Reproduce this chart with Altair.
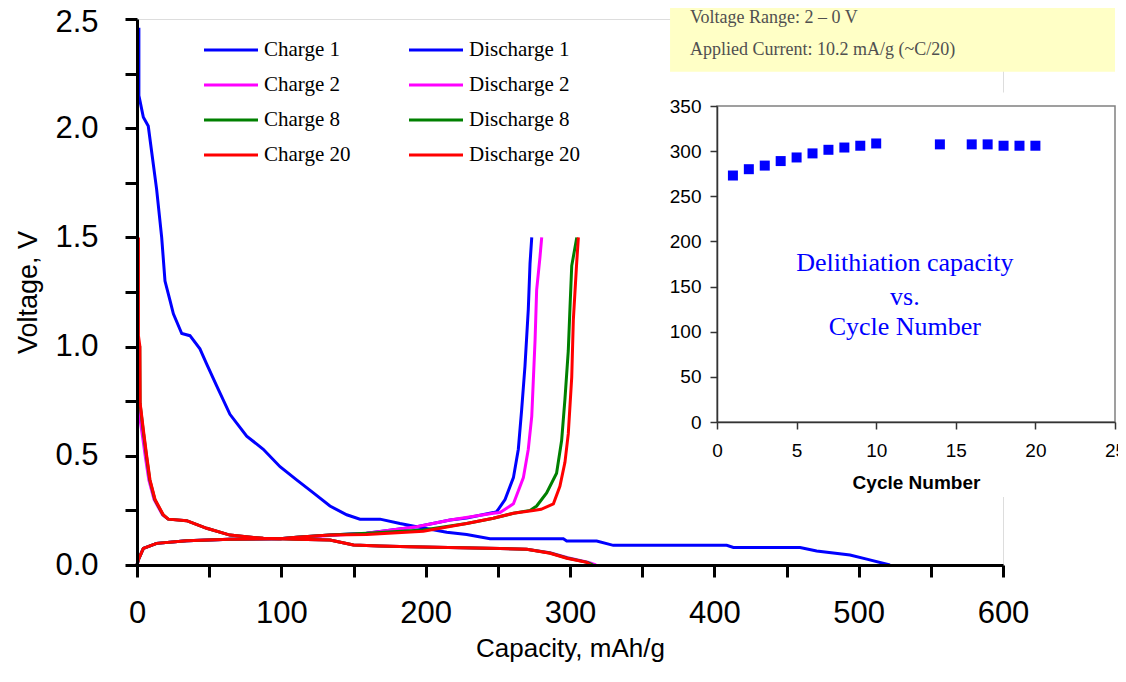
import altair as alt
import pandas as pd

# ---------------- main chart data (capacity mAh/g, voltage V) ----------------
d1_cap = [1.3, 1.3, 1.6, 4.4, 7.8, 10.2, 13.6, 17.1, 19.4, 22.9, 25.2, 31, 36.7, 43.6, 48.3, 55.2,
          64.4, 76, 87.5, 99.1, 110.6, 122.2, 133.7, 145.3, 154.5, 168.4, 182.2, 193.8, 214.6,
          228.4, 244.6, 295.4, 297.7, 318.5, 330, 408.6, 413.2, 459.4, 470.9, 494, 505.6, 521.7]
d1_v = [2.46, 2.15, 2.14, 2.05, 2.01, 1.89, 1.72, 1.50, 1.30, 1.21, 1.15, 1.06, 1.05, 0.99, 0.92, 0.82,
        0.69, 0.59, 0.53, 0.45, 0.39, 0.33, 0.27, 0.23, 0.21, 0.21, 0.19, 0.175, 0.15,
        0.14, 0.12, 0.12, 0.11, 0.11, 0.09, 0.09, 0.08, 0.08, 0.064, 0.046, 0.027, 0.0]

c1_cap = [0, 0.9, 4.4, 13.6, 34.4, 64.4, 99, 110.6, 133.7, 159, 193.8, 216.9, 228.4, 246.9,
          249.2, 255, 260.8, 264.2, 266.5, 268.8, 271.1, 272.3, 273.5]
c1_v = [0, 0.023, 0.076, 0.099, 0.111, 0.118, 0.12, 0.127, 0.137, 0.145, 0.175, 0.206, 0.215, 0.24,
        0.244, 0.30, 0.40, 0.53, 0.71, 0.91, 1.17, 1.38, 1.50]

d2_cap = [1.0, 1.0, 1.6, 1.8, 3.6, 5.9, 8.2, 11.8, 17.6, 21.5, 34.4, 48.3, 64.4, 87.5, 110.6, 133.7,
          150, 168, 189, 251.5, 270, 286.2, 298.5, 313, 318]
d2_v = [0.72, 0.70, 0.69, 0.68, 0.60, 0.49, 0.39, 0.30, 0.23, 0.21, 0.203, 0.168, 0.137, 0.122, 0.118,
        0.114, 0.092, 0.087, 0.084, 0.076, 0.072, 0.056, 0.033, 0.012, 0.0]

c2_cap = [0, 0.9, 4.4, 13.6, 34.4, 64.4, 99, 110.6, 133.7, 159, 193.8, 216.9, 246.9, 251.5,
          260.8, 267.7, 271.1, 273.5, 275.8, 276.9, 279.2, 280.4]
c2_v = [0, 0.023, 0.076, 0.099, 0.111, 0.118, 0.12, 0.125, 0.135, 0.145, 0.175, 0.206, 0.237, 0.24,
        0.28, 0.40, 0.53, 0.68, 1.03, 1.26, 1.41, 1.50]

d8_cap = [1.0, 1.0, 1.9, 2.1, 4.2, 6.5, 8.8, 12.3, 18, 21.6, 34.4, 48.3, 64.4, 87.5, 110.6, 133.7,
          150, 168, 189, 251.5, 270, 286.2, 298, 312, 316]
d8_v = [1.02, 1.01, 1.0, 0.74, 0.62, 0.50, 0.39, 0.30, 0.23, 0.21, 0.203, 0.168, 0.137, 0.122, 0.118,
        0.114, 0.092, 0.087, 0.084, 0.076, 0.072, 0.055, 0.032, 0.012, 0.0]

c8_cap = [0, 0.9, 4.4, 13.6, 34.4, 64.4, 99, 110.6, 133.7, 159.2, 198.4, 228.4, 246.9, 260.8,
          272.3, 276.9, 283.8, 290.7, 294.2, 296.5, 298.8, 300, 301.2, 304.7]
c8_v = [0, 0.023, 0.076, 0.099, 0.111, 0.118, 0.12, 0.127, 0.137, 0.145, 0.16, 0.19, 0.214, 0.237,
        0.25, 0.27, 0.33, 0.42, 0.57, 0.76, 0.98, 1.18, 1.37, 1.50]

d20_cap = [1.0, 1.0, 2, 2.2, 4.4, 6.7, 9, 12.5, 18.2, 21.7, 34.4, 48.3, 64.4, 87.5, 110.6, 133.7,
           150, 168, 189, 251.5, 270, 286.2, 297.7, 311.5, 314]
d20_v = [1.50, 1.05, 1.0, 0.74, 0.62, 0.50, 0.39, 0.30, 0.23, 0.21, 0.203, 0.168, 0.137, 0.122, 0.118,
         0.114, 0.092, 0.087, 0.084, 0.076, 0.072, 0.054, 0.031, 0.012, 0.0]

c20_cap = [0, 0.9, 4.4, 13.6, 34.4, 64.4, 99, 110.6, 133.7, 159.2, 198.4, 228.4, 246.9, 260.8,
           274.6, 280, 288.5, 293, 296.5, 298.8, 301.2, 302.3, 304.5, 305.8]
c20_v = [0, 0.023, 0.076, 0.099, 0.111, 0.118, 0.12, 0.127, 0.137, 0.14, 0.155, 0.19, 0.214, 0.237,
         0.25, 0.255, 0.28, 0.36, 0.47, 0.60, 0.86, 1.12, 1.37, 1.50]

# legend order (filled column by column: charges left, discharges right)
series_names = ["Charge 1", "Charge 2", "Charge 8", "Charge 20",
                "Discharge 1", "Discharge 2", "Discharge 8", "Discharge 20"]
series_colors = ["#0000FF", "#FF00FF", "#008000", "#FF0000",
                 "#0000FF", "#FF00FF", "#008000", "#FF0000"]
series_data = {
    "Charge 1": (c1_cap, c1_v), "Discharge 1": (d1_cap, d1_v),
    "Charge 2": (c2_cap, c2_v), "Discharge 2": (d2_cap, d2_v),
    "Charge 8": (c8_cap, c8_v), "Discharge 8": (d8_cap, d8_v),
    "Charge 20": (c20_cap, c20_v), "Discharge 20": (d20_cap, d20_v),
}

# ---------------- inset data ----------------
cycles = [1, 2, 3, 4, 5, 6, 7, 8, 9, 10, 14, 16, 17, 18, 19, 20]
delith_cap = [273, 280, 284, 289, 293, 297.5, 301.5, 304, 306, 308.5, 307.5, 307.5, 307.5, 306, 306, 306]

# ---------------- build main layers ----------------
FONT = "Liberation Sans"
SERIF = "Liberation Serif"

x_main = alt.Scale(domain=[0, 600], nice=False)
y_main = alt.Scale(domain=[0, 2.5], nice=False)
x_axis = alt.Axis(values=list(range(0, 601, 50)), format="d",
                  labelExpr="datum.value % 100 == 0 ? datum.label : ''",
                  title="Capacity, mAh/g", grid=False, domainColor="black", domainWidth=3,
                  tickColor="black", tickWidth=3, tickSize=12, labelFont=FONT, labelFontSize=31,
                  labelColor="black", labelPadding=21, labelFlush=False, titleFont=FONT,
                  titleFontSize=26, titleFontWeight="normal", titleColor="black", titlePadding=7,
                  zindex=1)
y_axis = alt.Axis(values=[i * 0.25 for i in range(11)],
                  labelExpr="datum.value % 0.5 == 0 ? format(datum.value, '.1f') : ''",
                  labelOffset={"condition": {"test": "datum.value == 2.5", "value": 3}, "value": 0},
                  title="Voltage, V", grid=False, domainColor="black", domainWidth=3,
                  tickColor="black", tickWidth=3, tickSize=12, labelFont=FONT, labelFontSize=31,
                  labelColor="black", labelPadding=27, labelFlush=False, titleFont=FONT,
                  titleFontSize=27, titleFontWeight="normal", titleColor="black", titlePadding=12,
                  zindex=1)
color_scale = alt.Scale(domain=series_names, range=series_colors)
legend = alt.Legend(orient="none", legendX=79, legendY=16, columns=2, title=None,
                    symbolType="M-2,0L2,0", symbolSize=729, symbolStrokeWidth=3,
                    labelFont=SERIF, labelFontSize=21, labelColor="black", labelOffset=18,
                    columnPadding=52, rowPadding=10, padding=0)

draw_order = ["Discharge 1", "Charge 1", "Discharge 2", "Charge 2",
              "Discharge 8", "Charge 8", "Discharge 20", "Charge 20"]
main_layers = []
for name in draw_order:
    caps, volts = series_data[name]
    df = pd.DataFrame({"cap": caps, "volt": volts, "series": name, "idx": list(range(len(caps)))})
    main_layers.append(
        alt.Chart(df).mark_line(strokeWidth=3).encode(
            x=alt.X("cap:Q", scale=x_main, axis=x_axis),
            y=alt.Y("volt:Q", scale=y_main, axis=y_axis),
            color=alt.Color("series:N", scale=color_scale, legend=legend),
            order=alt.Order("idx:Q"),
        )
    )
main = alt.layer(*main_layers)

# ---------------- inset ----------------
ix = alt.Scale(domain=[0, 25], range=[580, 978], nice=False, zero=False)
iy = alt.Scale(domain=[0, 350], range=[403, 87], nice=False, zero=False)
ix_axis = alt.Axis(orient="bottom", offset=-143, values=[0, 5, 10, 15, 20, 25], title="Cycle Number",
                   grid=False, domainColor="#333333", domainWidth=1.5, tickColor="#333333",
                   tickWidth=1.5, tickSize=7, labelFont=FONT, labelFontSize=19, labelColor="black",
                   labelPadding=12, labelFlush=False, titleFont=FONT, titleFontSize=19,
                   titleFontWeight="bold", titleColor="black", titlePadding=13, zindex=1)
iy_axis = alt.Axis(orient="left", offset=-580, values=list(range(0, 351, 50)), title=None,
                   grid=False, domainColor="#333333", domainWidth=1.5, tickColor="#333333",
                   tickWidth=1.5, tickSize=7, labelFont=FONT, labelFontSize=19, labelColor="black",
                   labelPadding=9, labelFlush=False, zindex=1)

# decorative boxes, expressed in inset data units
inset_bg = pd.DataFrame({"cycle": [-4.5], "cycle2": [27], "cap": [-83], "cap2": [365]})
inset_frame = pd.DataFrame({"cycle": [0], "cycle2": [25], "cap": [0], "cap2": [350]})
note_box = pd.DataFrame({"cycle": [-2.95], "cycle2": [25], "cap": [388], "cap2": [480]})
note_lines = ["Voltage Range: 2 \u2013 0 V", "Applied Current: 10.2 mA/g (~C/20)"]
note_df = pd.DataFrame({"cycle": [-1.7, -1.7], "cap": [447, 412], "label": note_lines})
inset_text = ["Delithiation capacity", "vs.", "Cycle Number"]
inset_text_df = pd.DataFrame({"cycle": [11.8, 11.8, 11.8], "cap": [176, 138, 105], "label": inset_text})
pts_df = pd.DataFrame({"cycle": cycles, "cap": delith_cap})

X = lambda f="cycle:Q": alt.X(f, scale=ix, axis=ix_axis)
Y = lambda f="cap:Q": alt.Y(f, scale=iy, axis=iy_axis)

bg = alt.Chart(inset_bg).mark_rect(fill="white", strokeWidth=0).encode(
    x=X(), x2="cycle2:Q", y=Y(), y2="cap2:Q")
frame = alt.Chart(inset_frame).mark_rect(fillOpacity=0, stroke="#808080", strokeWidth=1.5).encode(
    x=X(), x2="cycle2:Q", y=Y(), y2="cap2:Q")
nbox = alt.Chart(note_box).mark_rect(fill="#FFFFC6", strokeWidth=0).encode(
    x=X(), x2="cycle2:Q", y=Y(), y2="cap2:Q")
ntext = alt.Chart(note_df).mark_text(align="left", baseline="middle", font=SERIF, fontSize=18,
                                     color="#505050").encode(x=X(), y=Y(), text="label:N")
pts = alt.Chart(pts_df).mark_square(size=100, color="#0000FF", opacity=1).encode(x=X(), y=Y())
itext = alt.Chart(inset_text_df).mark_text(align="center", baseline="middle", font=SERIF, fontSize=26,
                                           color="#0000FF").encode(x=X(), y=Y(), text="label:N")
inset = alt.layer(bg, nbox, ntext, frame, pts, itext)

chart = alt.layer(main, inset).resolve_scale(x="independent", y="independent").properties(
    width=866, height=546,
    autosize=alt.AutoSizeParams(type="none"),
    padding={"left": 129, "top": 11, "right": 115, "bottom": 103},
).configure_view(stroke="black", strokeWidth=2).configure(background="white")

chart.save("out.html", embed_options={"renderer": "svg", "actions": False})
